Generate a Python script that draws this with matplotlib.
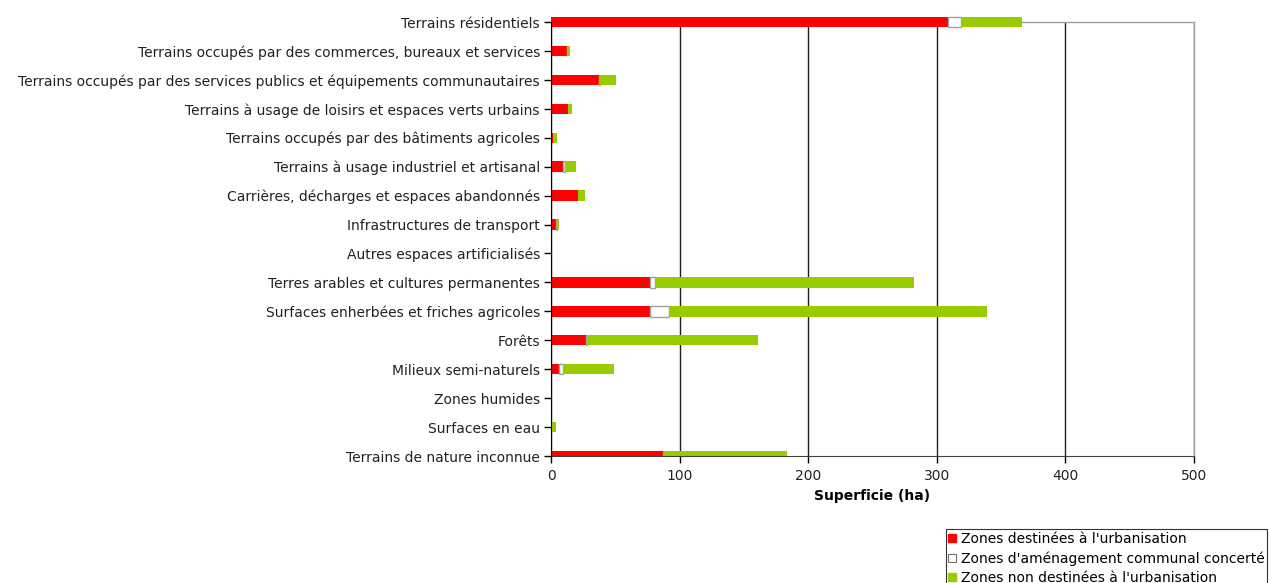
import matplotlib
matplotlib.use("Agg")
import matplotlib.pyplot as plt
from matplotlib.lines import Line2D
import numpy as np

categories = [
    "Terrains résidentiels",
    "Terrains occupés par des commerces, bureaux et services",
    "Terrains occupés par des services publics et équipements communautaires",
    "Terrains à usage de loisirs et espaces verts urbains",
    "Terrains occupés par des bâtiments agricoles",
    "Terrains à usage industriel et artisanal",
    "Carrières, décharges et espaces abandonnés",
    "Infrastructures de transport",
    "Autres espaces artificialisés",
    "Terres arables et cultures permanentes",
    "Surfaces enherbées et friches agricoles",
    "Forêts",
    "Milieux semi-naturels",
    "Zones humides",
    "Surfaces en eau",
    "Terrains de nature inconnue",
]
urbanisation = [309, 12.2, 37.3, 13.2, 1.5, 9.6, 21, 3.9, 0, 77.2, 77.2, 27.5, 6.5, 0, 0, 87]
zac = [9.5, 0.3, 0.5, 0, 0, 1, 0, 0.5, 0, 4, 14.6, 0.5, 3, 0, 0, 0.5]
non_urbanisation = [48, 2.5, 12.5, 3, 3.2, 8.5, 5.4, 2, 0, 201, 247, 133, 39.4, 0, 3.9, 95.7]
xticks = [0, 100, 200, 300, 400, 500]

labels = ["Zones destinées à l'urbanisation",
          "Zones d'aménagement communal concerté",
          "Zones non destinées à l'urbanisation"]
RED = "#FF0000"
GREEN = "#99CC00"
GRAY = "#A0A0A0"
FS = 10

plt.rcParams['font.family'] = ['DejaVu Sans']
fig = plt.figure(figsize=(12.69, 5.83), dpi=100)
ax = fig.add_axes([551/1269, 1-456/583, (1194-551)/1269, (456-22)/583])

y = np.arange(len(categories))
u = np.array(urbanisation)
z = np.array(zac)
n = np.array(non_urbanisation)
h = 0.36
b1 = ax.barh(y, u, height=h, color=RED, linewidth=0, zorder=3)
b2 = ax.barh(y, z, left=u, height=h, color="white", edgecolor=GRAY,
             linewidth=[1.0 if v > 0 else 0 for v in z], zorder=3)
b3 = ax.barh(y, n, left=u + z, height=h, color=GREEN, linewidth=0, zorder=3)
for bars in (b1, b2, b3):
    bars[0].set_clip_on(False)

ax.set_ylim(len(categories) - 1, 0)
ax.set_xlim(0, 500)
ax.set_yticks(y)
ax.set_yticklabels(categories, fontsize=FS, color="#222222")
ax.set_xticks(xticks)
ax.set_xticklabels([str(t) for t in xticks], fontsize=FS, color="#222222")
ax.tick_params(axis='y', length=5, width=1, color="black", pad=3)
ax.tick_params(axis='x', length=5, width=1, color="black", pad=4)
ax.set_xlabel("Superficie (ha)", fontsize=FS, fontweight='bold', labelpad=5)

ax.grid(axis='x', color="#202020", linewidth=1, zorder=1)
ax.set_axisbelow(True)
for s in ('top', 'right'):
    ax.spines[s].set_color(GRAY)
    ax.spines[s].set_linewidth(1)
ax.spines['left'].set_color("black")
ax.spines['bottom'].set_color("#404040")
ax.spines['left'].set_zorder(4)

handles = [
    Line2D([], [], marker='s', linestyle='none', markersize=6, markerfacecolor=RED, markeredgecolor=RED),
    Line2D([], [], marker='s', linestyle='none', markersize=6, markerfacecolor="white", markeredgecolor="#707070", markeredgewidth=0.8),
    Line2D([], [], marker='s', linestyle='none', markersize=6, markerfacecolor=GREEN, markeredgecolor=GREEN),
]
leg = fig.legend(handles, labels, loc='upper left', bbox_to_anchor=(946/1269, 1-529/583),
                 fontsize=FS, frameon=True, fancybox=False, edgecolor="black",
                 handlelength=0.5, handletextpad=0.35, labelspacing=0.38,
                 borderpad=0.2, borderaxespad=0)
leg.get_frame().set_linewidth(0.8)

fig.savefig("out.png", dpi=100)
